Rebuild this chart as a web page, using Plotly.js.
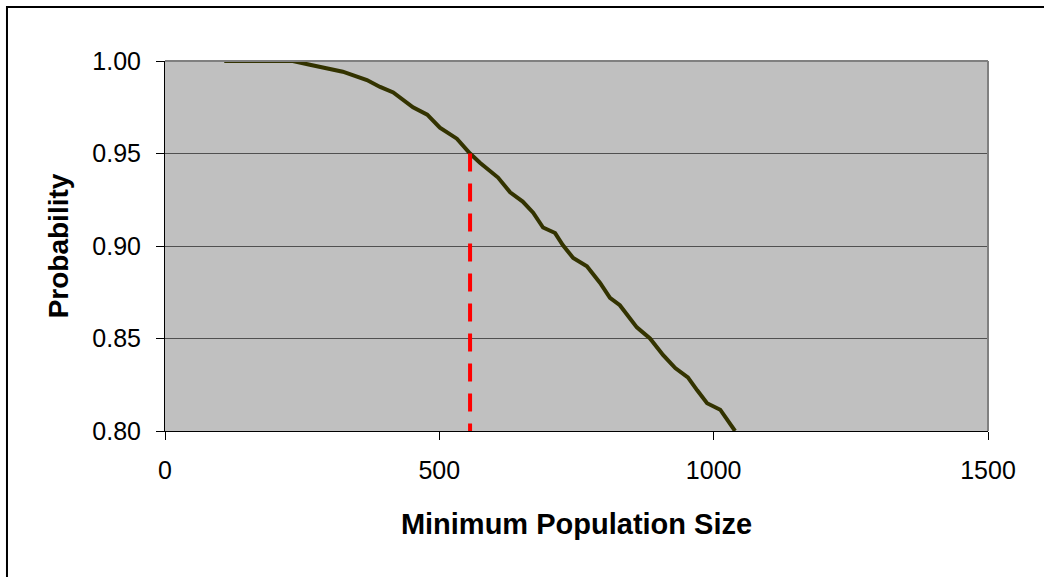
<!DOCTYPE html>
<html>
<head>
<meta charset="utf-8">
<script src="https://cdn.plot.ly/plotly-3.0.1.min.js"></script>
<style>
  html, body { margin: 0; padding: 0; background: white; }
  #chart { width: 1044px; height: 577px; }
</style>
</head>
<body>
<div id="chart"></div>
<script>
// Probability vs minimum population size
var popSize = [108, 233, 264, 306, 324, 368, 392, 416, 452, 478, 501, 532, 556, 574, 592, 607, 629, 652, 671, 689, 711, 725, 744, 769, 793, 811, 829, 860, 884, 908, 930, 953, 970, 988, 1012, 1039];
var probability = [1.000, 1.000, 0.998, 0.9955, 0.9942, 0.9897, 0.986, 0.983, 0.975, 0.971, 0.964, 0.958, 0.950, 0.945, 0.941, 0.937, 0.929, 0.924, 0.918, 0.910, 0.907, 0.9005, 0.8935, 0.889, 0.880, 0.872, 0.868, 0.856, 0.850, 0.841, 0.834, 0.829, 0.822, 0.815, 0.8115, 0.800];

// Marker line at 95% probability
var markerX = [556, 556];
var markerY = [0.95, 0.80];

var xTickVals = [0, 500, 1000, 1500];
var xTickText = ['0', '500', '1000', '1500'];
var yTickVals = [0.80, 0.85, 0.90, 0.95, 1.00];
var yTickText = ['0.80', '0.85', '0.90', '0.95', '1.00'];

var traces = [
  {
    x: popSize, y: probability, type: 'scatter', mode: 'lines',
    line: {color: '#333300', width: 4}, hoverinfo: 'x+y'
  },
  {
    x: markerX, y: markerY, type: 'scatter', mode: 'lines',
    line: {color: '#FF0000', width: 4, dash: '18px,12px'}, hoverinfo: 'x+y'
  }
];

var layout = {
  width: 1044, height: 577,
  margin: {l: 165, r: 56, t: 61, b: 146, autoexpand: false},
  paper_bgcolor: 'white',
  plot_bgcolor: '#C0C0C0',
  showlegend: false,
  font: {family: '"Liberation Sans", Arial, sans-serif', color: 'black'},
  xaxis: {
    range: [0, 1500], tickvals: xTickVals, ticktext: xTickText,
    ticks: 'outside', ticklen: 8, tickwidth: 1, tickcolor: 'black',
    showgrid: false, zeroline: false, showline: true, linecolor: 'black', linewidth: 1,
    tickfont: {size: 25, color: 'black'}, ticklabelstandoff: 9,
    automargin: false, fixedrange: true,
    title: {text: '<b>Minimum Population Size</b>', font: {size: 29, color: 'black'}, standoff: 30}
  },
  yaxis: {
    range: [0.80, 1.00], tickvals: yTickVals, ticktext: yTickText,
    ticks: 'outside', ticklen: 8, tickwidth: 1, tickcolor: 'black',
    showgrid: true, gridcolor: '#505050', gridwidth: 1,
    zeroline: false, showline: true, linecolor: 'black', linewidth: 1,
    tickfont: {size: 25, color: 'black'}, ticklabelstandoff: 10,
    automargin: false, fixedrange: true,
    title: {text: '<b>Probability</b>', font: {size: 28, color: 'black'}, standoff: 15}
  },
  shapes: [
    // outer chart frame (extends past the right and bottom edges)
    {type: 'rect', xref: 'paper', yref: 'paper', x0: -0.192, x1: 2, y0: -2, y1: 1.146,
     line: {color: 'black', width: 2}, fillcolor: 'rgba(0,0,0,0)', layer: 'above'},
    // plot-area border, top and right
    {type: 'line', xref: 'paper', yref: 'paper', x0: 0, x1: 1, y0: 1, y1: 1,
     line: {color: '#808080', width: 2}, layer: 'above'},
    {type: 'line', xref: 'paper', yref: 'paper', x0: 1, x1: 1, y0: 0, y1: 1,
     line: {color: '#808080', width: 2}, layer: 'above'}
  ]
};

Plotly.newPlot('chart', traces, layout, {displayModeBar: false, staticPlot: true});
</script>
</body>
</html>
